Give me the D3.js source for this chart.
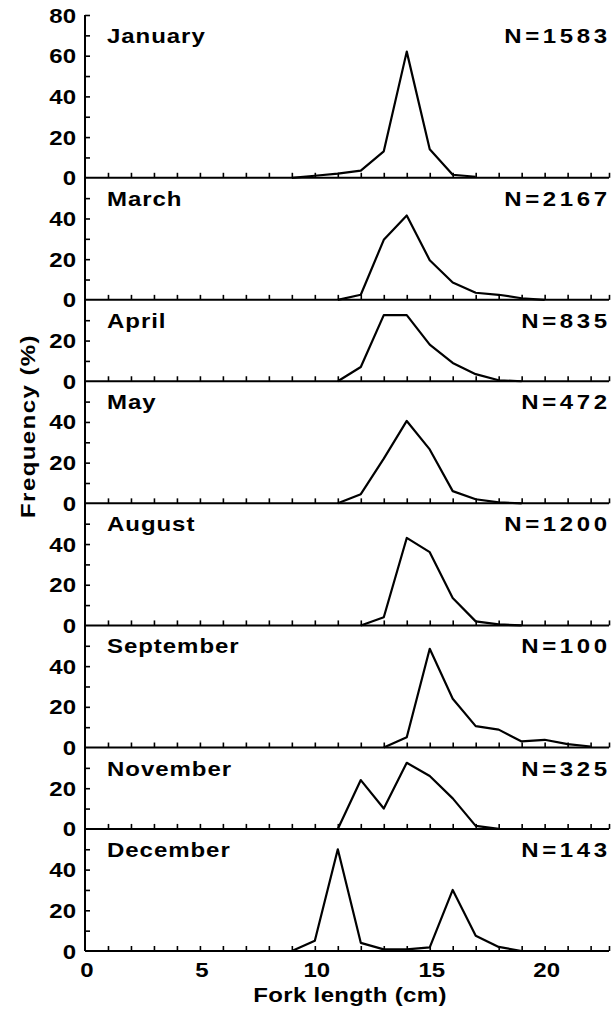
<!DOCTYPE html>
<html>
<head>
<meta charset="utf-8">
<script src="https://cdn.jsdelivr.net/npm/d3@7/dist/d3.min.js"></script>
<style>
  html, body { margin: 0; padding: 0; background: #fff; }
  svg { display: block; }
  text { font-family: "Liberation Sans", Arial, Helvetica, sans-serif; font-weight: bold; fill: #000; }
</style>
</head>
<body>
<svg id="chart" width="611" height="1011"></svg>
<script>
// Monthly length-frequency distributions (fork length in cm, frequency in %)
const months = ["January", "March", "April", "May", "August", "September", "November", "December"];
const sampleSizes = ["N=1583", "N=2167", "N=835", "N=472", "N=1200", "N=100", "N=325", "N=143"];
const yMaxima = [80, 60, 40, 60, 60, 60, 40, 60];

const january   = [[9,0],[10,1],[11,2],[12,3.5],[13,13],[14,62],[15,14],[16,1.5],[17,0.5]];
const march     = [[11,0],[12,2.5],[13,29.5],[14,41.5],[15,19.5],[16,8.5],[17,3.5],[18,2.5],[19,0.8],[20,0]];
const april     = [[11,0],[12,7],[13,32.5],[14,32.5],[15,18],[16,9],[17,3.5],[18,0.5],[19,0]];
const may       = [[11,0],[12,4.5],[13,22],[14,40.5],[15,26.5],[16,6],[17,2],[18,0.5],[19,0]];
const august    = [[12,0],[13,4],[14,43],[15,36],[16,13.5],[17,2],[18,0.5],[19,0]];
const september = [[13,0],[14,5],[15,48.5],[16,24],[17,10.5],[18,8.8],[19,3],[20,3.8],[21,1.7],[22,0.5]];
const november  = [[11,0],[12,24],[13,10],[14,32.5],[15,26],[16,15],[17,1.5],[18,0]];
const december  = [[9,0],[10,5],[11,50],[12,4],[13,0.8],[14,0.8],[15,1.8],[16,30],[17,7.5],[18,2],[19,0]];

const seriesByMonth = [january, march, april, may, august, september, november, december];

const xTitle = "Fork length (cm)";
const yTitle = "Frequency (%)";
const xTickValues = [0, 5, 10, 15, 20];
const xMax = 22.8;

const svg = d3.select("#chart");

// Frame geometry
const frameLeft = 85, frameRight = 609;
const frameTop = 15, frameBottom = 951;
const totalUnits = d3.sum(yMaxima);
const pxPerUnit = (frameBottom - frameTop) / totalUnits;
const wide = 1.2;   // horizontal stretch of the lettering

const x = d3.scaleLinear().domain([0, xMax]).range([frameLeft, frameRight]);

const line = d3.line()
  .x(d => x(d[0]))
  .y(d => d.y);

// wide bold label placed at (px, py)
function wideText(parent, px, py, txt, size, anchor, spacing) {
  return parent.append("text")
    .attr("transform", `translate(${px},${py}) scale(${wide},1)`)
    .attr("text-anchor", anchor)
    .style("font-size", size + "px")
    .style("letter-spacing", (spacing || 0) + "px")
    .text(txt);
}

let cursor = frameTop;
months.forEach((month, i) => {
  const yMax = yMaxima[i];
  const panelTop = cursor;
  const panelBottom = cursor + yMax * pxPerUnit;
  cursor = panelBottom;

  const y = d3.scaleLinear().domain([0, yMax]).range([panelBottom, panelTop]);
  const g = svg.append("g").attr("class", "panel");

  // baseline with upward ticks at every centimetre and at the right end
  g.append("line")
    .attr("x1", frameLeft).attr("x2", frameRight)
    .attr("y1", y(0)).attr("y2", y(0))
    .attr("stroke", "#000").attr("stroke-width", 2);

  const xAxis = d3.axisTop(x)
    .tickValues(d3.range(1, Math.floor(xMax) + 1).concat([xMax]))
    .tickSize(5)
    .tickFormat("");
  g.append("g")
    .attr("transform", `translate(0,${y(0)})`)
    .call(xAxis)
    .call(s => s.select(".domain").remove())
    .call(s => s.selectAll(".tick line").attr("stroke", "#000").attr("stroke-width", 1.6));

  // y ticks every 10 %, labels every 20 %
  const tickVals = d3.range(10, yMax + (i === 0 ? 1 : 0), 10);
  const yAxis = d3.axisRight(y)
    .tickValues(tickVals)
    .tickSize(5)
    .tickFormat("");
  g.append("g")
    .attr("transform", `translate(${frameLeft},0)`)
    .call(yAxis)
    .call(s => s.select(".domain").remove())
    .call(s => s.selectAll(".tick line").attr("stroke", "#000").attr("stroke-width", 1.6));

  const labelVals = d3.range(0, yMax + (i === 0 ? 1 : 0), 20);
  labelVals.forEach(v => wideText(g, frameLeft - 9, y(v) + 7.5, v, 20, "end"));

  // month name and sample size
  wideText(g, 107, panelTop + 28, month, 20, "start", 0.8);
  wideText(g, 607 + 3 * wide, panelTop + 28, sampleSizes[i], 20, "end", 3);

  // frequency polygon
  const pts = seriesByMonth[i].map(d => ({0: d[0], y: y(d[1])}));
  g.append("path")
    .attr("d", line(pts))
    .attr("fill", "none")
    .attr("stroke", "#000")
    .attr("stroke-width", 2.2)
    .attr("stroke-linejoin", "round");
});

// left axis spine
svg.append("line")
  .attr("x1", frameLeft).attr("x2", frameLeft)
  .attr("y1", frameTop).attr("y2", frameBottom)
  .attr("stroke", "#000").attr("stroke-width", 2);

// x tick labels under the last panel
xTickValues.forEach(v => wideText(svg, x(v) + 2, 977, v, 20, "middle"));

// axis titles
wideText(svg, 350, 1002, xTitle, 20, "middle", 0.3);

svg.append("text")
  .attr("transform", `translate(35,426) rotate(-90) scale(${wide},1)`)
  .attr("text-anchor", "middle")
  .style("font-size", "20px")
  .style("letter-spacing", "1.2px")
  .text(yTitle);
</script>
</body>
</html>
